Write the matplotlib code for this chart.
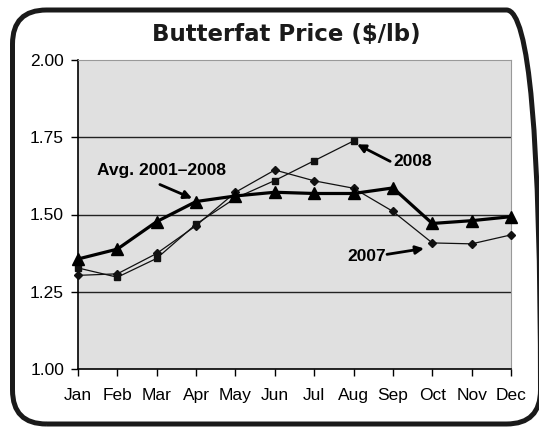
import numpy as np
import matplotlib.pyplot as plt
from matplotlib.patches import FancyBboxPatch
from matplotlib.transforms import IdentityTransform

# data
months = ['Jan', 'Feb', 'Mar', 'Apr', 'May', 'Jun', 'Jul', 'Aug', 'Sep', 'Oct', 'Nov', 'Dec']
avg_01_08 = [1.356, 1.388, 1.477, 1.542, 1.560, 1.572, 1.568, 1.568, 1.586, 1.471, 1.480, 1.493]
y2008 = [1.327, 1.297, 1.358, 1.469, 1.553, 1.610, 1.674, 1.738]
y2007 = [1.303, 1.308, 1.374, 1.464, 1.572, 1.644, 1.609, 1.585, 1.510, 1.408, 1.405, 1.434]
yticks = [1.00, 1.25, 1.50, 1.75, 2.00]

plt.rcParams['font.family'] = ['Liberation Sans', 'DejaVu Sans']

fig = plt.figure(figsize=(5.39, 4.28), dpi=100)
fig.patch.set_facecolor('white')
ax = fig.add_axes([78/539, 59/428, 433/539, 309/428])

x = np.arange(len(months))

ax.set_facecolor('#e0e0e0')
for v in yticks[1:-1]:
    ax.axhline(v, color='#222222', lw=1.0, zorder=1)

# 2007 series
ax.plot(x, y2007, '-', color='#111111', lw=0.9, marker='D', ms=4, zorder=3, clip_on=False)
# 2008 series
ax.plot(x[:len(y2008)], y2008, '-', color='#111111', lw=0.9, marker='s', ms=5, zorder=3, clip_on=False)
# average
ax.plot(x, avg_01_08, '-', color='#000000', lw=2.3, marker='^', ms=8, zorder=4, clip_on=False)

ax.set_xlim(0, 11)
ax.set_ylim(1.0, 2.0)
ax.set_xticks(x)
ax.set_xticklabels(months)
ax.set_yticks(yticks)
ax.set_yticklabels(['%.2f' % v for v in yticks])
ax.tick_params(axis='both', direction='out', length=5, width=1, labelsize=12.5, colors='black')
ax.tick_params(axis='x', pad=9)
ax.tick_params(axis='y', pad=5)
for s in ['top', 'right']:
    ax.spines[s].set_color('#999999')
for s in ['left', 'bottom']:
    ax.spines[s].set_color('black')
    ax.spines[s].set_linewidth(1.2)

# labels with arrows
arrow = dict(arrowstyle='-|>', color='black', lw=2, mutation_scale=12, shrinkA=0, shrinkB=0)
ax.text(2.13, 1.642, 'Avg. 2001\u20132008', fontsize=12.5, fontweight='bold', ha='center', va='center', zorder=6)
ax.annotate('', xy=(2.90, 1.552), xytext=(2.08, 1.597), arrowprops=arrow, zorder=6)
ax.text(8.0, 1.672, '2008', fontsize=12.5, fontweight='bold', ha='left', va='center', zorder=6)
ax.annotate('', xy=(7.09, 1.727), xytext=(7.93, 1.672), arrowprops=arrow, zorder=6)
ax.text(7.34, 1.364, '2007', fontsize=12.5, fontweight='bold', ha='center', va='center', zorder=6)
ax.annotate('', xy=(8.79, 1.390), xytext=(7.85, 1.371), arrowprops=arrow, zorder=6)

fig.text(286/539, 1 - 35/428, 'Butterfat Price ($/lb)', fontsize=16.5, fontweight='bold',
         family=['DejaVu Sans'], ha='center', va='center', color='#1a1a1a')

# rounded outer frame, right side runs off the image
frame = FancyBboxPatch((12.5, 4), 528, 414, boxstyle='round,pad=0,rounding_size=34',
                       transform=IdentityTransform(), fill=False, lw=3.6, edgecolor='#1a1a1a')
fig.add_artist(frame)

fig.savefig('out.png', dpi=100)
